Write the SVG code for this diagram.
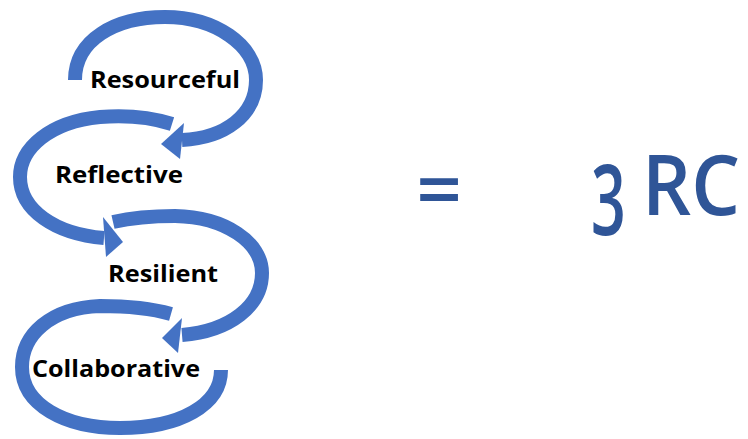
<svg xmlns="http://www.w3.org/2000/svg" width="748" height="439" viewBox="0 0 748 439">
<style>
.arc{fill:none;stroke:#4472c4;stroke-width:14;stroke-linecap:butt}
.head{fill:#4472c4}
.lbl{font-family:"Open Sans","Liberation Sans",sans-serif;font-weight:700;font-size:24px;fill:#000}
.big{font-family:"Open Sans","Liberation Sans",sans-serif;font-weight:600;fill:#2f5597}
</style>
<rect width="748" height="439" fill="#fff"/>
<g id="connectors">
<path class="arc" d="M75,80 C75,40 115,17 165,17 C215,17 256,45 256,80 C256,115 225,138 182,140"/>
<polygon class="head" points="184,123 180,159 161,144"/>
<path class="arc" d="M172,124 C150,117 125,115 100,117 C50,122 20,148 20,177 C20,210 55,234 104,238"/>
<polygon class="head" points="103,217 106,257 123,242"/>
<path class="arc" d="M113,222 C135,217 155,216 175,216 C225,217 262,242 262,273 C262,306 230,331 182,335"/>
<polygon class="head" points="182,318 178,353 162,338"/>
<path class="arc" d="M171,314 C150,308 125,306 100,306 C50,308 22,335 22,367 C22,405 65,428 120,428 C180,428 221,405 221,370"/>
</g>
<g id="resourceful"><text class="lbl" x="90" y="88" textLength="150" lengthAdjust="spacingAndGlyphs">Resourceful</text></g>
<g id="reflective"><text class="lbl" x="55" y="183" textLength="128" lengthAdjust="spacingAndGlyphs">Reflective</text></g>
<g id="resilient"><text class="lbl" x="108" y="282" textLength="110" lengthAdjust="spacingAndGlyphs">Resilient</text></g>
<g id="collaborative"><text class="lbl" x="32" y="377" textLength="168" lengthAdjust="spacingAndGlyphs">Collaborative</text></g>
<g id="equals"><text class="big" x="439" y="218" font-size="80" text-anchor="middle">=</text></g>
<g id="result">
<text class="big" x="0" y="235" font-size="98" font-weight="700" transform="translate(591,0) scale(0.62,1)">3</text>
<text class="big" x="642" y="215" font-size="84" textLength="98" lengthAdjust="spacingAndGlyphs">RC</text>
</g>
</svg>
